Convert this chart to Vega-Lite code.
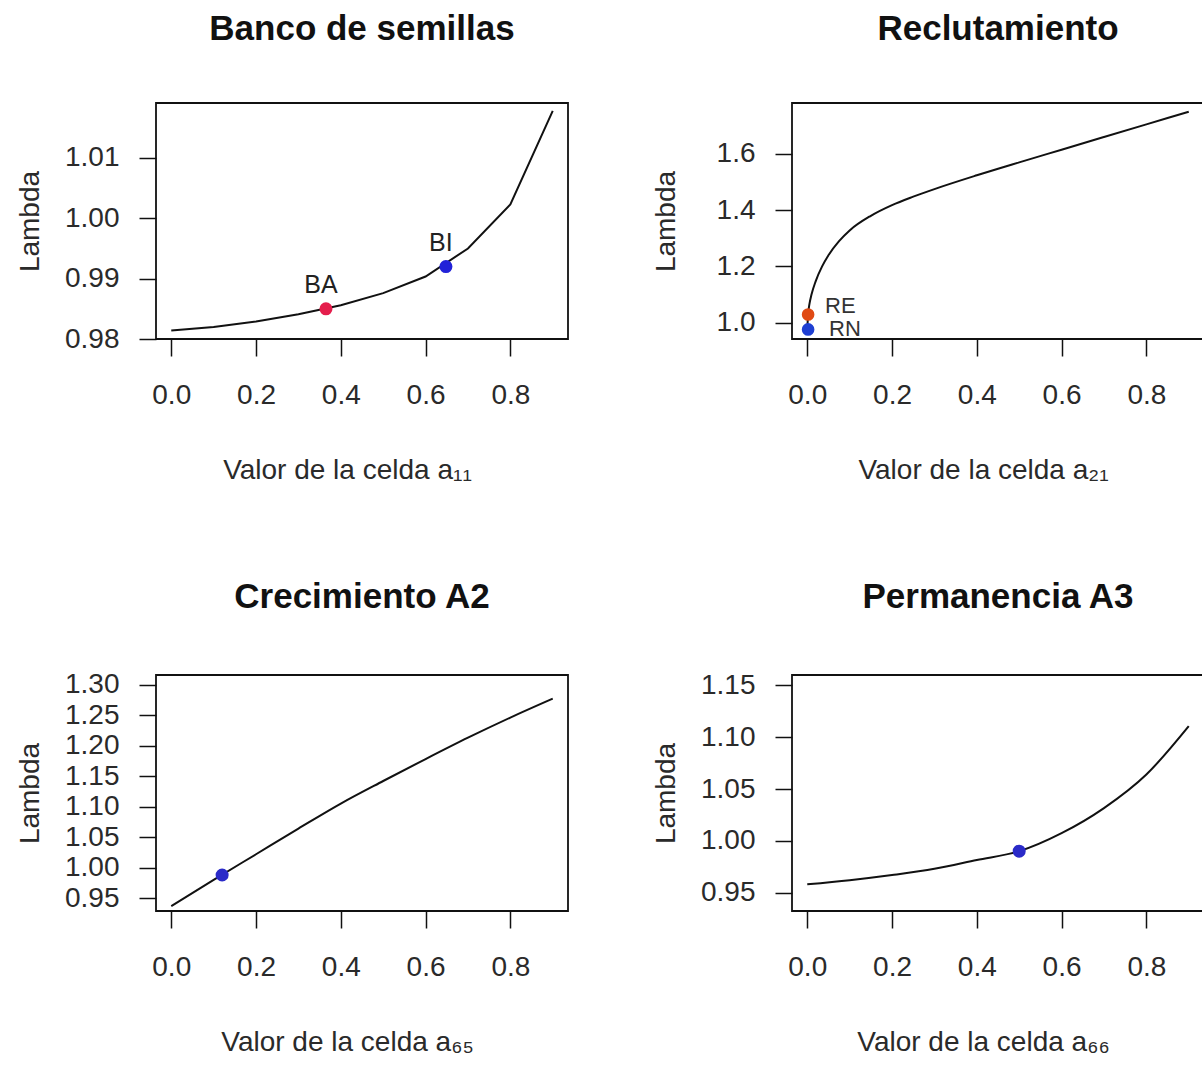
{
  "$schema": "https://vega.github.io/schema/vega-lite/v6.json",
  "background": "white",
  "padding": {"left": 15, "top": 11, "right": 0, "bottom": 0},
  "datasets": {
    "curves": [
      {"panel": "banco", "x": 0.0, "lambda": 0.9814},
      {"panel": "banco", "x": 0.1, "lambda": 0.9820},
      {"panel": "banco", "x": 0.2, "lambda": 0.9829},
      {"panel": "banco", "x": 0.3, "lambda": 0.9841},
      {"panel": "banco", "x": 0.4, "lambda": 0.9856},
      {"panel": "banco", "x": 0.5, "lambda": 0.9876},
      {"panel": "banco", "x": 0.6, "lambda": 0.99035},
      {"panel": "banco", "x": 0.7, "lambda": 0.9950},
      {"panel": "banco", "x": 0.8, "lambda": 1.0023},
      {"panel": "banco", "x": 0.9, "lambda": 1.0178},
      {"panel": "reclut", "x": 0.0, "lambda": 0.976},
      {"panel": "reclut", "x": 0.002, "lambda": 1.03},
      {"panel": "reclut", "x": 0.005, "lambda": 1.065},
      {"panel": "reclut", "x": 0.01, "lambda": 1.10},
      {"panel": "reclut", "x": 0.02, "lambda": 1.148},
      {"panel": "reclut", "x": 0.035, "lambda": 1.200},
      {"panel": "reclut", "x": 0.05, "lambda": 1.240},
      {"panel": "reclut", "x": 0.075, "lambda": 1.290},
      {"panel": "reclut", "x": 0.1, "lambda": 1.328},
      {"panel": "reclut", "x": 0.15, "lambda": 1.380},
      {"panel": "reclut", "x": 0.2, "lambda": 1.418},
      {"panel": "reclut", "x": 0.25, "lambda": 1.448},
      {"panel": "reclut", "x": 0.3, "lambda": 1.475},
      {"panel": "reclut", "x": 0.4, "lambda": 1.524},
      {"panel": "reclut", "x": 0.5, "lambda": 1.57},
      {"panel": "reclut", "x": 0.6, "lambda": 1.615},
      {"panel": "reclut", "x": 0.7, "lambda": 1.66},
      {"panel": "reclut", "x": 0.8, "lambda": 1.705},
      {"panel": "reclut", "x": 0.9, "lambda": 1.75},
      {"panel": "crec", "x": 0.0, "lambda": 0.937},
      {"panel": "crec", "x": 0.1, "lambda": 0.980},
      {"panel": "crec", "x": 0.2, "lambda": 1.022},
      {"panel": "crec", "x": 0.3, "lambda": 1.064},
      {"panel": "crec", "x": 0.4, "lambda": 1.105},
      {"panel": "crec", "x": 0.5, "lambda": 1.142},
      {"panel": "crec", "x": 0.6, "lambda": 1.178},
      {"panel": "crec", "x": 0.7, "lambda": 1.213},
      {"panel": "crec", "x": 0.8, "lambda": 1.246},
      {"panel": "crec", "x": 0.9, "lambda": 1.277},
      {"panel": "perm", "x": 0.0, "lambda": 0.958},
      {"panel": "perm", "x": 0.1, "lambda": 0.962},
      {"panel": "perm", "x": 0.2, "lambda": 0.967},
      {"panel": "perm", "x": 0.3, "lambda": 0.973},
      {"panel": "perm", "x": 0.4, "lambda": 0.9815},
      {"panel": "perm", "x": 0.5, "lambda": 0.990},
      {"panel": "perm", "x": 0.6, "lambda": 1.0074},
      {"panel": "perm", "x": 0.7, "lambda": 1.0316},
      {"panel": "perm", "x": 0.8, "lambda": 1.064},
      {"panel": "perm", "x": 0.9, "lambda": 1.1107}
    ],
    "puntos": [
      {"panel": "banco", "id": "BA", "label": "BA", "x": 0.365, "lambda": 0.985},
      {"panel": "banco", "id": "BI", "label": "BI", "x": 0.648, "lambda": 0.992},
      {"panel": "reclut", "id": "RE", "label": "RE", "x": 0.002, "lambda": 1.029},
      {"panel": "reclut", "id": "RN", "label": "RN", "x": 0.002, "lambda": 0.976},
      {"panel": "crec", "id": "A2", "label": "", "x": 0.12, "lambda": 0.988},
      {"panel": "perm", "id": "A3", "label": "", "x": 0.5, "lambda": 0.990}
    ]
  },
  "config": {
    "font": "Liberation Sans",
    "view": {"stroke": "#111", "strokeWidth": 1.8},
    "axis": {
      "grid": false,
      "domain": false,
      "tickColor": "#111",
      "tickWidth": 1.5,
      "tickSize": 17,
      "labelFont": "Liberation Sans",
      "labelFontSize": 28,
      "labelColor": "#2a2a2a",
      "titleFont": "Liberation Sans",
      "titleFontSize": 28,
      "titleFontWeight": "normal",
      "titleColor": "#2a2a2a"
    },
    "axisX": {"labelPadding": 25, "titleX": 191, "titleY": 117, "labelFlush": false},
    "axisY": {"labelPadding": 20, "titleX": -112, "titleY": 118},
    "title": {"font": "Liberation Sans", "fontSize": 35, "fontWeight": "bold", "color": "#111", "anchor": "middle", "offset": 56},
    "legend": {"disable": true}
  },
  "columns": 2,
  "spacing": {"row": 336, "column": 224},
  "bounds": "flush",
  "concat": [
    {
      "title": "Banco de semillas",
      "width": 412,
      "height": 236,
      "encoding": {
        "x": {"field": "x", "type": "quantitative", "scale": {"domain": [-0.036, 0.936], "nice": false, "zero": false},
              "axis": {"values": [0, 0.2, 0.4, 0.6, 0.8], "format": ".1f", "title": "Valor de la celda a₁₁"}},
        "y": {"field": "lambda", "type": "quantitative", "scale": {"domain": [0.98, 1.0191], "nice": false, "zero": false},
              "axis": {"values": [0.98, 0.99, 1.0, 1.01], "format": ".2f", "title": "Lambda"}}
      },
      "layer": [
        {"data": {"name": "curves"}, "transform": [{"filter": "datum.panel === 'banco'"}],
         "mark": {"type": "line", "color": "#111", "strokeWidth": 2}},
        {"data": {"name": "puntos"}, "transform": [{"filter": "datum.panel === 'banco'"}],
         "mark": {"type": "circle", "size": 170, "opacity": 1},
         "encoding": {"color": {"field": "id", "type": "nominal",
           "scale": {"domain": ["BA", "BI", "RE", "RN", "A2", "A3"], "range": ["#e41e4c", "#2222d8", "#e04a14", "#1f3fd2", "#2a2ac8", "#2a2ac8"]}}}},
        {"data": {"name": "puntos"}, "transform": [{"filter": "datum.panel === 'banco'"}],
         "mark": {"type": "text", "fontSize": 25, "color": "#222", "dx": -5, "dy": -24, "baseline": "middle"},
         "encoding": {"text": {"field": "label"}}}
      ]
    },
    {
      "title": "Reclutamiento",
      "width": 412,
      "height": 236,
      "encoding": {
        "x": {"field": "x", "type": "quantitative", "scale": {"domain": [-0.036, 0.936], "nice": false, "zero": false},
              "axis": {"values": [0, 0.2, 0.4, 0.6, 0.8], "format": ".1f", "title": "Valor de la celda a₂₁"}},
        "y": {"field": "lambda", "type": "quantitative", "scale": {"domain": [0.942, 1.781], "nice": false, "zero": false},
              "axis": {"values": [1.0, 1.2, 1.4, 1.6], "format": ".1f", "title": "Lambda"}}
      },
      "layer": [
        {"data": {"name": "curves"}, "transform": [{"filter": "datum.panel === 'reclut'"}],
         "mark": {"type": "line", "color": "#111", "strokeWidth": 2, "interpolate": "monotone"}},
        {"data": {"name": "puntos"}, "transform": [{"filter": "datum.panel === 'reclut'"}],
         "mark": {"type": "circle", "size": 160, "opacity": 1},
         "encoding": {"color": {"field": "id", "type": "nominal",
           "scale": {"domain": ["BA", "BI", "RE", "RN", "A2", "A3"], "range": ["#e41e4c", "#2222d8", "#e04a14", "#1f3fd2", "#2a2ac8", "#2a2ac8"]}}}},
        {"data": {"name": "puntos"}, "transform": [{"filter": "datum.id === 'RE'"}],
         "mark": {"type": "text", "fontSize": 22, "color": "#333", "align": "left", "dx": 17, "dy": -9, "baseline": "middle"},
         "encoding": {"text": {"field": "label"}}},
        {"data": {"name": "puntos"}, "transform": [{"filter": "datum.id === 'RN'"}],
         "mark": {"type": "text", "fontSize": 22, "color": "#333", "align": "left", "dx": 21, "dy": 0, "baseline": "middle"},
         "encoding": {"text": {"field": "label"}}}
      ]
    },
    {
      "title": "Crecimiento A2",
      "width": 412,
      "height": 236,
      "encoding": {
        "x": {"field": "x", "type": "quantitative", "scale": {"domain": [-0.036, 0.936], "nice": false, "zero": false},
              "axis": {"values": [0, 0.2, 0.4, 0.6, 0.8], "format": ".1f", "title": "Valor de la celda a₆₅"}},
        "y": {"field": "lambda", "type": "quantitative", "scale": {"domain": [0.929, 1.3157], "nice": false, "zero": false},
              "axis": {"values": [0.95, 1.0, 1.05, 1.1, 1.15, 1.2, 1.25, 1.3], "format": ".2f", "title": "Lambda"}}
      },
      "layer": [
        {"data": {"name": "curves"}, "transform": [{"filter": "datum.panel === 'crec'"}],
         "mark": {"type": "line", "color": "#111", "strokeWidth": 2, "interpolate": "monotone"}},
        {"data": {"name": "puntos"}, "transform": [{"filter": "datum.panel === 'crec'"}],
         "mark": {"type": "circle", "size": 170, "opacity": 1},
         "encoding": {"color": {"field": "id", "type": "nominal",
           "scale": {"domain": ["BA", "BI", "RE", "RN", "A2", "A3"], "range": ["#e41e4c", "#2222d8", "#e04a14", "#1f3fd2", "#2a2ac8", "#2a2ac8"]}}}}
      ]
    },
    {
      "title": "Permanencia A3",
      "width": 412,
      "height": 236,
      "encoding": {
        "x": {"field": "x", "type": "quantitative", "scale": {"domain": [-0.036, 0.936], "nice": false, "zero": false},
              "axis": {"values": [0, 0.2, 0.4, 0.6, 0.8], "format": ".1f", "title": "Valor de la celda a₆₆"}},
        "y": {"field": "lambda", "type": "quantitative", "scale": {"domain": [0.9323, 1.16], "nice": false, "zero": false},
              "axis": {"values": [0.95, 1.0, 1.05, 1.1, 1.15], "format": ".2f", "title": "Lambda"}}
      },
      "layer": [
        {"data": {"name": "curves"}, "transform": [{"filter": "datum.panel === 'perm'"}],
         "mark": {"type": "line", "color": "#111", "strokeWidth": 2, "interpolate": "monotone"}},
        {"data": {"name": "puntos"}, "transform": [{"filter": "datum.panel === 'perm'"}],
         "mark": {"type": "circle", "size": 170, "opacity": 1},
         "encoding": {"color": {"field": "id", "type": "nominal",
           "scale": {"domain": ["BA", "BI", "RE", "RN", "A2", "A3"], "range": ["#e41e4c", "#2222d8", "#e04a14", "#1f3fd2", "#2a2ac8", "#2a2ac8"]}}}}
      ]
    }
  ]
}
